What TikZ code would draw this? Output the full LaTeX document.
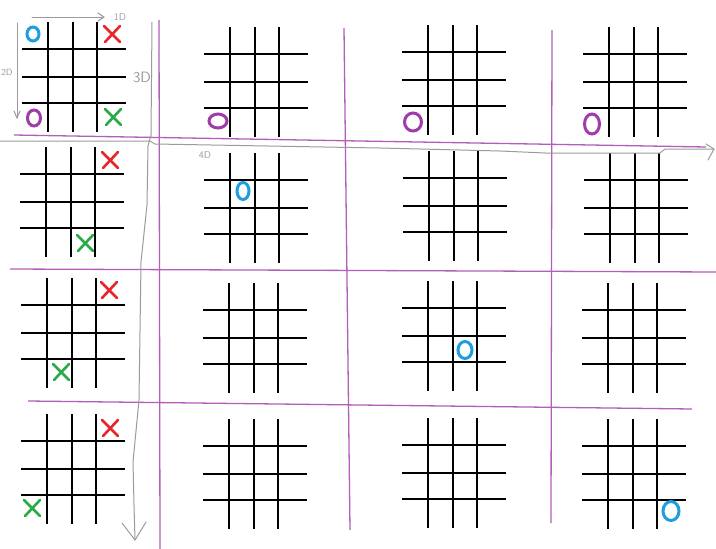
\documentclass[tikz,border=0pt]{standalone}
\usetikzlibrary{arrows.meta}
\definecolor{ppl}{RGB}{178,95,185}
\definecolor{pplO}{RGB}{160,60,170}
\definecolor{blu}{RGB}{30,158,225}
\definecolor{rd}{RGB}{232,38,42}
\definecolor{grn}{RGB}{40,170,70}
\definecolor{gry}{RGB}{155,155,155}
\tikzset{
  gridline/.style={black, line width=1.7pt},
  sepline/.style={ppl, line width=1.3pt},
  dimline/.style={gry, line width=1pt, line join=round, line cap=round},
  symbol/.style={line width=2.6pt, line cap=round, line join=round},
  osymbol/.style={line width=3pt},
  lbl/.style={gry, inner sep=0pt, font=\sffamily}
}
\newcommand\tttgrid[2]{%
  \begin{scope}[shift={(#1,#2)}]
    \foreach \v in {26,51,75} \draw[gridline] (\v,0) -- (\v,110);
    \foreach \h in {27,55,81} \draw[gridline] (0,\h) -- (104,\h);
  \end{scope}}
\newcommand\markX[3]{%
  \draw[symbol,#1] (#2-8,#3-8) -- (#2+8,#3+8);
  \draw[symbol,#1] (#2+8,#3-8) -- (#2-7,#3+8);}
\newcommand\markO[5]{%
  \draw[osymbol,#1] (#2,#3) ellipse [x radius=#4, y radius=#5];}
\begin{document}
\begin{tikzpicture}[x=1pt,y=-1pt]
  \fill[white] (0,0) rectangle (716,549);
  \useasboundingbox (0,0) rectangle (716,549);

  % purple separators
  \draw[sepline] (159,20) -- (160,549);
  \draw[sepline] (344,28) -- (350,530);
  \draw[sepline] (552,30) -- (551,523);
  \draw[sepline] (14,135) -- (706,147);
  \draw[sepline] (10,269) -- (716,272);
  \draw[sepline] (28,401) -- (692,409);

  % grids
  \tttgrid{22}{22}  \tttgrid{204}{27}  \tttgrid{402}{25}  \tttgrid{583}{27}
  \tttgrid{20}{147} \tttgrid{204}{153} \tttgrid{403}{151} \tttgrid{584}{153}
  \tttgrid{21}{278} \tttgrid{203}{283} \tttgrid{402}{281} \tttgrid{582}{283}
  \tttgrid{21}{414} \tttgrid{203}{419} \tttgrid{402}{418} \tttgrid{582}{419}

  % dimension arrows (gray, hand drawn)
  \coordinate (a1s) at (32,17);
  \coordinate (a1e) at (104,17);
  \draw[dimline] (a1s) -- (a1e);
  \draw[dimline] (98,13) -- (a1e) -- (98,21);
  \node[lbl, font=\sffamily\fontsize{10}{10}\selectfont] (l1) at (120,17) {1D};

  \coordinate (a2s) at (17,23);
  \coordinate (a2e) at (17,118);
  \draw[dimline] (a2s) -- (a2e);
  \draw[dimline] (14,111) -- (a2e) -- (20,111);
  \node[lbl, font=\sffamily\fontsize{9}{9}\selectfont] (l2) at (7,72) {2D};

  \coordinate (a3s) at (152,22);
  \coordinate (a3e) at (135,540);
  \draw[dimline] (a3s) -- (151,135) -- (148,146) -- (147,205) -- (141,262)
     -- (139,400) -- (133,462) -- (134,505) -- (a3e);
  \draw[dimline] (122,523) -- (a3e) -- (146,522);
  \node[lbl, font=\sffamily\fontsize{15}{15}\selectfont] (l3) at (142,77) {3D};

  \coordinate (a4s) at (0,141);
  \coordinate (a4e) at (714,149);
  \draw[dimline] (a4s) -- (150,141) -- (155,144) -- (380,148) -- (500,151)
     -- (545,153) -- (660,153) -- (665,149) -- (a4e);
  \draw[dimline] (706,144) -- (a4e) -- (708,160);
  \node[lbl, font=\sffamily\fontsize{10}{10}\selectfont] (l4) at (205,155) {4D};

  % marks, row 1
  \markO{blu}{33}{34}{6}{7}
  \markX{rd}{112}{34}
  \markO{pplO}{34}{118}{6.5}{8}
  \markX{grn}{113}{117}
  \markO{pplO}{218}{121}{9}{7}
  \markO{pplO}{413}{122}{8.5}{9}
  \markO{pplO}{592}{124}{7.5}{10}
  % row 2
  \markX{rd}{110}{160}
  \markX{grn}{85}{243}
  \markO{blu}{243}{191}{6}{8.5}
  % row 3
  \markX{rd}{109}{290}
  \markX{grn}{61}{372}
  \markO{blu}{465}{350}{7}{8.5}
  % row 4
  \markX{rd}{110}{428}
  \markX{grn}{32}{508}
  \markO{blu}{671}{511}{8}{9.5}
\end{tikzpicture}
\end{document}
